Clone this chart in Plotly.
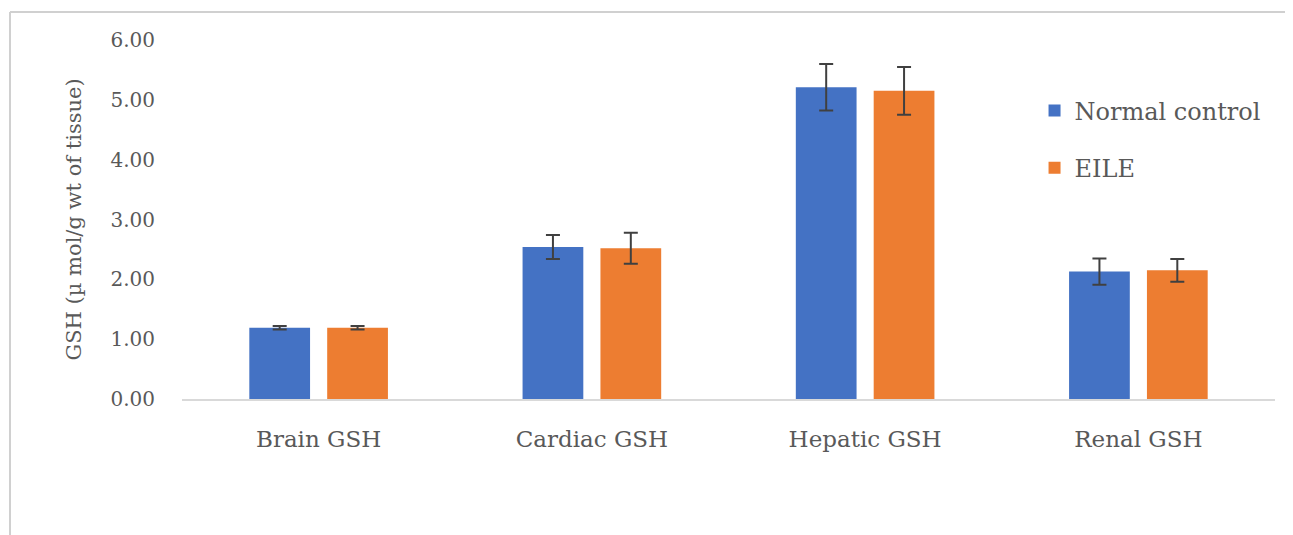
import plotly.graph_objects as go

categories = ["Brain GSH", "Cardiac GSH", "Hepatic GSH", "Renal GSH"]
normal_vals = [1.19, 2.54, 5.21, 2.13]
normal_err = [0.03, 0.20, 0.39, 0.22]
eile_vals = [1.19, 2.52, 5.15, 2.15]
eile_err = [0.03, 0.26, 0.40, 0.19]
y_ticks = [0, 1, 2, 3, 4, 5, 6]
y_ticktext = ["0.00", "1.00", "2.00", "3.00", "4.00", "5.00", "6.00"]

FONT = "DejaVu Serif, Liberation Serif, serif"
TXT = "#595959"
ERR = "#404040"

# page body has an 8px margin, so the figure is 8px smaller and offsets are shifted
W, H = 1285, 527
L, R, T, B = 174, 18, 32, 136
PW = W - L - R
PH = H - T - B

fig = go.Figure()
fig.add_trace(go.Bar(
    x=categories, y=normal_vals, name="Normal control",
    marker=dict(color="#4472C4", line=dict(width=0)),
    error_y=dict(type="data", array=normal_err, visible=True, color=ERR, thickness=2, width=7),
    legendgroup="a",
))
fig.add_trace(go.Bar(
    x=categories, y=eile_vals, name="EILE",
    marker=dict(color="#ED7D31", line=dict(width=0)),
    error_y=dict(type="data", array=eile_err, visible=True, color=ERR, thickness=2, width=7),
    legendgroup="b",
))

fig.update_layout(
    width=W, height=H,
    margin=dict(l=L, r=R, t=T, b=B),
    paper_bgcolor="white", plot_bgcolor="white",
    barmode="group", bargap=0.43, bargroupgap=0.22,
    font=dict(family=FONT, color=TXT),
    legend=dict(
        x=0.780, y=0.865, xanchor="left", yanchor="top",
        font=dict(family=FONT, size=24, color=TXT),
        traceorder="grouped", tracegroupgap=23,
        itemwidth=30, bgcolor="rgba(0,0,0,0)",
    ),
    xaxis=dict(
        showgrid=False, showline=True, linecolor="#D9D9D9", linewidth=1.5,
        ticks="", tickfont=dict(family=FONT, size=23, color=TXT),
        ticklabelstandoff=19,
    ),
    yaxis=dict(
        range=[0, 6], tickvals=y_ticks, ticktext=y_ticktext,
        showgrid=False, showline=False, zeroline=False,
        ticks="", tickfont=dict(family=FONT, size=20, color=TXT),
        ticklabelstandoff=26,
        title=dict(text="GSH (µ mol/g wt of tissue)", font=dict(family=FONT, size=21, color=TXT), standoff=23),
    ),
    shapes=[
        dict(type="line", xref="paper", yref="paper",
             x0=(2 - L) / PW, x1=(2 - L) / PW,
             y0=(T + PH - 4) / PH, y1=-0.5,
             line=dict(color="#D0D0D0", width=2)),
        dict(type="line", xref="paper", yref="paper",
             x0=(2 - L) / PW, x1=(W + 20 - L) / PW,
             y0=(T + PH - 4) / PH, y1=(T + PH - 4) / PH,
             line=dict(color="#D0D0D0", width=2)),
    ],
)

fig.write_html("out.html")
